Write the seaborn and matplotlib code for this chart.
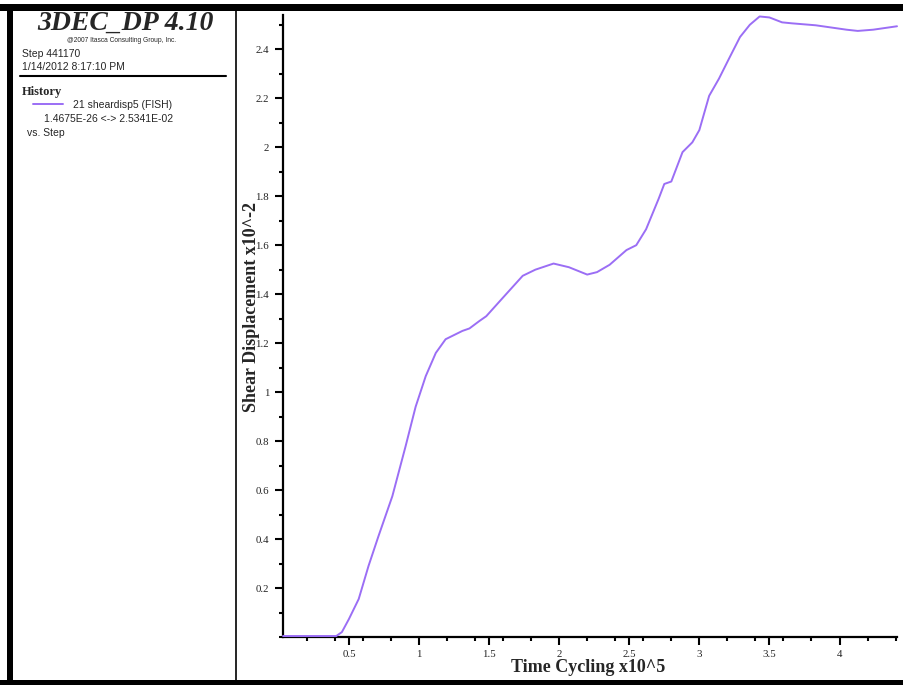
import matplotlib
matplotlib.use("Agg")
import matplotlib.pyplot as plt
import matplotlib.ticker as mticker
from matplotlib.patches import Rectangle
from matplotlib.lines import Line2D
import seaborn as sns
import pandas as pd

# ---- data ----
step_x1e5 = [0.03, 0.41, 0.45, 0.50, 0.57, 0.64, 0.71, 0.81, 0.905, 0.976, 1.048, 1.12,
             1.19, 1.31, 1.36, 1.43, 1.48, 1.59, 1.74, 1.83, 1.96, 2.07, 2.20, 2.27, 2.36,
             2.48, 2.55, 2.62, 2.71, 2.75, 2.80, 2.88, 2.95, 3.00, 3.07, 3.14, 3.21, 3.29,
             3.36, 3.43, 3.50, 3.59, 3.66, 3.83, 4.05, 4.13, 4.24, 4.41]
shear_x1e2 = [0.004, 0.004, 0.02, 0.073, 0.155, 0.29, 0.41, 0.575, 0.78, 0.94, 1.065, 1.16,
              1.216, 1.25, 1.26, 1.29, 1.31, 1.38, 1.475, 1.50, 1.525, 1.51, 1.48, 1.49, 1.52,
              1.58, 1.60, 1.665, 1.79, 1.85, 1.86, 1.98, 2.02, 2.07, 2.21, 2.28, 2.36, 2.45,
              2.50, 2.534, 2.53, 2.51, 2.506, 2.498, 2.48, 2.475, 2.48, 2.494]
x_major_ticks = [0.5, 1, 1.5, 2, 2.5, 3, 3.5, 4]
x_tick_labels = ["0.5", "1", "1.5", "2", "2.5", "3", "3.5", "4"]
y_major_ticks = [0.2, 0.4, 0.6, 0.8, 1.0, 1.2, 1.4, 1.6, 1.8, 2.0, 2.2, 2.4]
y_tick_labels = ["0.2", "0.4", "0.6", "0.8", "1", "1.2", "1.4", "1.6", "1.8", "2", "2.2", "2.4"]

df = pd.DataFrame({"step": step_x1e5, "disp": shear_x1e2})

sns.set_style("white")
W, H = 904, 685
fig = plt.figure(figsize=(W / 100, H / 100), dpi=100)
fig.patch.set_facecolor("white")

def fx(px):
    return px / W

def fy(py):
    return 1 - py / H

ax = fig.add_axes([fx(283), fy(637), fx(897) - fx(283), fy(15) - fy(637)])
line_color = "#9b6ef5"
sns.lineplot(data=df, x="step", y="disp", ax=ax, color=line_color, linewidth=1.4)
for ln in ax.lines:
    ln.set_zorder(5)
    ln.set_clip_on(False)
    ln.set_solid_joinstyle("round")

ax.set_xlim(0.03, 4.41)
ax.set_ylim(0, 2.54)
for s in ["top", "right"]:
    ax.spines[s].set_visible(False)
for s in ["left", "bottom"]:
    ax.spines[s].set_color("black")
    ax.spines[s].set_linewidth(1.6)

ax.xaxis.set_major_locator(mticker.FixedLocator(x_major_ticks))
ax.xaxis.set_major_formatter(mticker.FixedFormatter(x_tick_labels))
ax.xaxis.set_minor_locator(mticker.MultipleLocator(0.2))
ax.yaxis.set_major_locator(mticker.FixedLocator(y_major_ticks))
ax.yaxis.set_major_formatter(mticker.FixedFormatter(y_tick_labels))
ax.yaxis.set_minor_locator(mticker.MultipleLocator(0.1))

ax.tick_params(axis="both", which="both", bottom=True, left=True, top=False, right=False)
ax.tick_params(axis="both", which="major", direction="out", length=6, width=1.5,
               colors="black", labelsize=7.8)
ax.tick_params(axis="x", which="major", pad=3.5)
ax.tick_params(axis="y", which="major", pad=4)
ax.tick_params(axis="both", which="minor", direction="out", length=3, width=1.5, colors="black")
for lab in ax.get_xticklabels() + ax.get_yticklabels():
    lab.set_fontfamily("Liberation Serif")
    lab.set_color("#222222")
ax.grid(False)

ax.set_xlabel("")
ax.set_ylabel("")
fig.text(fx(588), fy(667), "Time Cycling x10^5", ha="center", va="center",
         fontfamily="Liberation Serif", fontweight="bold", fontsize=13)
fig.text(fx(251), fy(307), "Shear Displacement x10^-2", ha="center", va="center",
         rotation=90, fontfamily="Liberation Serif", fontweight="bold", fontsize=13)

# ---- frame ----
fig.add_artist(Rectangle((0, fy(11)), 1, fy(4) - fy(11), transform=fig.transFigure,
                         facecolor="black", edgecolor="none"))
fig.add_artist(Rectangle((0, 0), 1, fy(680), transform=fig.transFigure,
                         facecolor="black", edgecolor="none"))
fig.add_artist(Rectangle((fx(7), 0), fx(13) - fx(7), fy(4), transform=fig.transFigure,
                         facecolor="black", edgecolor="none"))
fig.add_artist(Line2D([fx(236), fx(236)], [fy(680), fy(11)], transform=fig.transFigure,
                      color="black", linewidth=1.2))
fig.add_artist(Line2D([fx(20), fx(226)], [fy(76), fy(76)], transform=fig.transFigure,
                      color="black", linewidth=1.5))

# ---- left info panel ----
fig.text(fx(125), fy(23), "3DEC_DP 4.10", ha="center", va="center",
         fontfamily="Liberation Serif", fontweight="bold", fontstyle="italic", fontsize=20)
fig.text(fx(122), fy(40), "@2007 Itasca Consulting Group, Inc.", ha="center", va="center",
         fontfamily="Liberation Sans", fontsize=4.8)
fig.text(fx(22), fy(54), "Step 441170", ha="left", va="center",
         fontfamily="Liberation Sans", fontsize=7.5)
fig.text(fx(22), fy(67), "1/14/2012 8:17:10 PM", ha="left", va="center",
         fontfamily="Liberation Sans", fontsize=7.5)
fig.text(fx(22), fy(92), "History", ha="left", va="center",
         fontfamily="Liberation Serif", fontweight="bold", fontsize=9)
fig.add_artist(Line2D([fx(33), fx(63)], [fy(104), fy(104)], transform=fig.transFigure,
                      color=line_color, linewidth=1.4))
fig.text(fx(73), fy(105), "21 sheardisp5 (FISH)", ha="left", va="center",
         fontfamily="Liberation Sans", fontsize=7.5)
fig.text(fx(44), fy(119), "1.4675E-26 <-> 2.5341E-02", ha="left", va="center",
         fontfamily="Liberation Sans", fontsize=7.5)
fig.text(fx(27), fy(133), "vs. Step", ha="left", va="center",
         fontfamily="Liberation Sans", fontsize=7.5)

fig.savefig("out.png", dpi=100, facecolor="white")
